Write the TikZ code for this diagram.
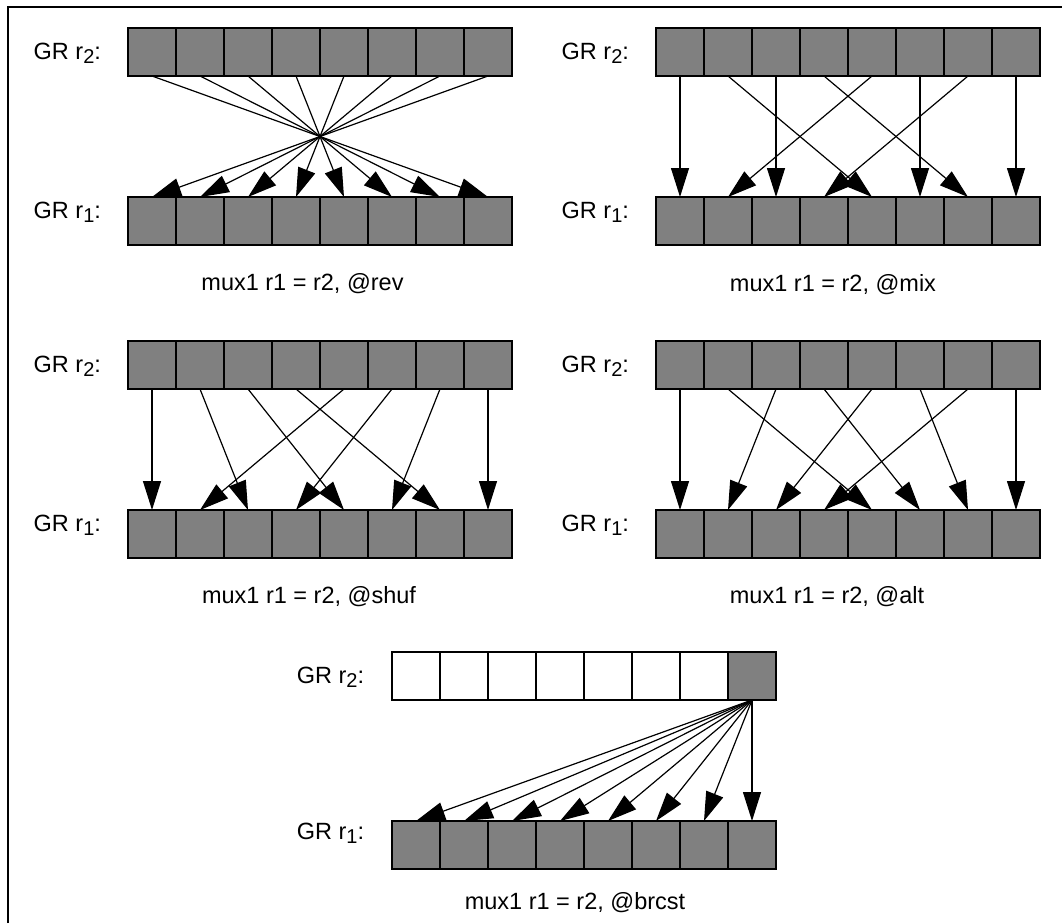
\documentclass[tikz,border=0pt]{standalone}
\usepackage{fontspec}
\setmainfont{Liberation Sans}
\usetikzlibrary{arrows.meta}
\definecolor{cellgrey}{RGB}{128,128,128}
\newcommand\mysub[1]{\raisebox{-4.5pt}{\fontsize{20}{21}\selectfont #1}}
\tikzset{
  cell/.style={draw=black, line width=1.8pt, fill=cellgrey, minimum width=48pt,
    minimum height=48pt, inner sep=0pt, outer sep=0pt},
  emptycell/.style={cell, fill=white},
  link/.style={line width=1.2pt, -{Triangle[length=29pt,width=18pt]}},
  lbl/.style={anchor=base west, inner sep=0pt, font=\fontsize{23.5}{27}\selectfont},
  captxt/.style={anchor=base, inner sep=0pt, font=\fontsize{23.5}{27}\selectfont},
  frameline/.style={line width=1.6pt}
}
\newcommand\regpanel[3]{%
  \begin{scope}[shift={(#2,#3)}]
    \foreach \i in {0,...,7} {
      \node[cell] (#1t\i) at (152+48*\i, 52) {};
      \node[cell] (#1b\i) at (152+48*\i, 221) {};
    }
    \node[lbl] (#1lt) at (33.5, 59.3) {GR r\mysub{2}:};
    \node[lbl] (#1lb) at (33.5, 218) {GR r\mysub{1}:};
  \end{scope}}
\begin{document}
\begin{tikzpicture}[x=1pt, y=-1pt]
  \useasboundingbox (0,0) rectangle (1062,923);
  \draw[frameline] (8,923) -- (8,7) -- (1062,7);

  % panel 1: rev
  \regpanel{pa}{0}{0}
  \foreach \i in {0,...,7} {
    \pgfmathtruncatemacro\j{7-\i}
    \draw[link] (pat\i.south) -- (pab\j.north);
  }
  \node[captxt] (capa) at (302.5, 290) {mux1 r1 = r2, @rev};

  % panel 2: mix
  \regpanel{pb}{528}{0}
  \foreach \i/\j in {0/0, 1/4, 2/2, 3/6, 4/1, 5/5, 6/3, 7/7}
    \draw[link] (pbt\i.south) -- (pbb\j.north);
  \node[captxt] (capb) at (833, 291) {mux1 r1 = r2, @mix};

  % panel 3: shuf
  \regpanel{pc}{0}{313}
  \foreach \i/\j in {0/0, 1/2, 2/4, 3/6, 4/1, 5/3, 6/5, 7/7}
    \draw[link] (pct\i.south) -- (pcb\j.north);
  \node[captxt] (capc) at (309, 603) {mux1 r1 = r2, @shuf};

  % panel 4: alt
  \regpanel{pd}{528}{313}
  \foreach \i/\j in {0/0, 1/4, 2/1, 3/5, 4/2, 5/6, 6/3, 7/7}
    \draw[link] (pdt\i.south) -- (pdb\j.north);
  \node[captxt] (capd) at (827, 603) {mux1 r1 = r2, @alt};

  % panel 5: brcst
  \begin{scope}[shift={(264,624)}]
    \foreach \i in {0,...,6}
      \node[emptycell] (pet\i) at (152+48*\i, 52) {};
    \node[cell] (pet7) at (152+48*7, 52) {};
    \foreach \i in {0,...,7}
      \node[cell] (peb\i) at (152+48*\i, 221) {};
    \node[lbl] (pelt) at (32.6, 59.3) {GR r\mysub{2}:};
    \node[lbl] (pelb) at (32.6, 215) {GR r\mysub{1}:};
  \end{scope}
  \foreach \j in {0,...,7}
    \draw[link] (pet7.south) -- (peb\j.north);
  \node[captxt] (cape) at (575, 909) {mux1 r1 = r2, @brcst};
\end{tikzpicture}
\end{document}
